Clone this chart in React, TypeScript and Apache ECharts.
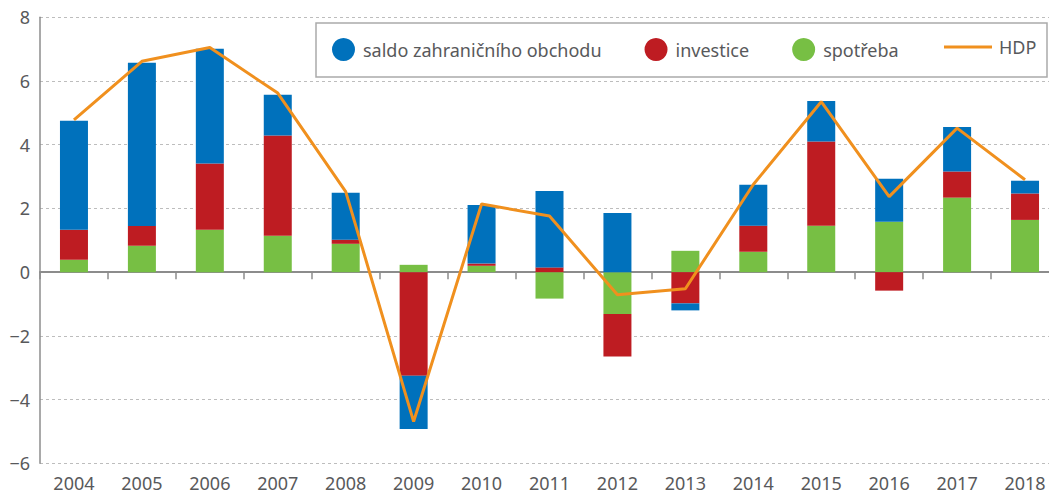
import React, { useEffect, useRef } from "react";
import * as echarts from "echarts";

const years = ["2004","2005","2006","2007","2008","2009","2010","2011","2012","2013","2014","2015","2016","2017","2018"];
const spotreba = [0.39, 0.83, 1.33, 1.14, 0.89, 0.23, 0.2, -0.83, -1.31, 0.67, 0.64, 1.46, 1.58, 2.34, 1.64];
const investice = [0.94, 0.62, 2.08, 3.15, 0.13, -3.25, 0.07, 0.15, -1.34, -0.98, 0.82, 2.64, -0.58, 0.82, 0.83];
const saldo = [3.42, 5.12, 3.6, 1.28, 1.47, -1.67, 1.84, 2.4, 1.86, -0.22, 1.28, 1.27, 1.35, 1.4, 0.4];
const hdp = [4.78, 6.62, 7.05, 5.62, 2.53, -4.69, 2.14, 1.76, -0.71, -0.52, 2.75, 5.35, 2.37, 4.52, 2.9];

const names = ["saldo zahraničního obchodu", "investice", "spotřeba", "HDP"];
const BLUE = "#0071bc";
const RED = "#be1c22";
const GREEN = "#77bf44";
const ORANGE = "#f0901e";
const FONT = "Noto Sans";
const TXT = "#58595b";

export default function App() {
  const ref = useRef<HTMLDivElement>(null);
  useEffect(() => {
    if (!ref.current) return;
    const chart = echarts.init(ref.current, null, { renderer: "svg" });
    chart.setOption({
      animation: false,
      backgroundColor: "#fff",
      textStyle: { fontFamily: FONT },
      grid: { left: 40, right: 0, top: 17.3, bottom: 31.7, containLabel: false },
      graphic: [
        {
          type: "rect",
          z: 1,
          shape: { x: 316, y: 23, width: 731, height: 54 },
          style: { fill: "#fff", stroke: "#aaaaaa", lineWidth: 1.5 },
        },
      ],
      legend: [
        {
          data: [
            { name: names[0], icon: "circle" },
            { name: names[1], icon: "circle" },
            { name: names[2], icon: "circle" },
          ],
          left: 332,
          top: 38,
          itemWidth: 23,
          itemHeight: 23,
          itemGap: 43,
          padding: 0,
          z: 5,
          textStyle: { fontFamily: FONT, fontSize: 18, color: TXT, padding: [0, 0, 0, 3] },
        },
        {
          data: [{ name: names[3], icon: "rect" }],
          left: 944,
          top: 38,
          itemWidth: 48,
          itemHeight: 3,
          padding: 0,
          z: 5,
          textStyle: { fontFamily: FONT, fontSize: 18, color: TXT, padding: [0, 0, 0, 2] },
        },
      ],
      xAxis: [
        {
          type: "category",
          data: years,
          boundaryGap: true,
          axisLine: { onZero: true, lineStyle: { color: "#8c8c8c", width: 2 } },
          axisTick: { show: true, length: 7, alignWithLabel: false, lineStyle: { color: "#8c8c8c", width: 1.5 } },
          axisLabel: { show: false },
          splitLine: { show: false },
        },
        {
          type: "category",
          data: years,
          position: "bottom",
          boundaryGap: true,
          axisLine: { show: false, onZero: false },
          axisTick: { show: false },
          axisLabel: { show: true, margin: 11, fontFamily: FONT, fontSize: 18, color: TXT },
          splitLine: { show: false },
        },
      ],
      yAxis: {
        type: "value",
        min: -6,
        max: 8,
        interval: 2,
        axisLine: { show: true, lineStyle: { color: "#8c8c8c", width: 1.5 } },
        axisTick: { show: false },
        axisLabel: {
          margin: 10,
          fontFamily: FONT,
          fontSize: 18,
          color: TXT,
          formatter: (v: number) => (v < 0 ? "\u2212" + Math.abs(v) : String(v)),
        },
        splitLine: { show: true, lineStyle: { color: "#bdbdbd", type: [3, 3], width: 1 } },
      },
      series: [
        { name: names[2], type: "bar", stack: "t", data: spotreba, barWidth: 28, itemStyle: { color: GREEN } },
        { name: names[1], type: "bar", stack: "t", data: investice, barWidth: 28, itemStyle: { color: RED } },
        { name: names[0], type: "bar", stack: "t", data: saldo, barWidth: 28, itemStyle: { color: BLUE } },
        {
          name: names[3],
          type: "line",
          data: hdp,
          symbol: "none",
          z: 4,
          lineStyle: { color: ORANGE, width: 3 },
          itemStyle: { color: ORANGE },
        },
      ],
    });
    return () => chart.dispose();
  }, []);
  return (
    <div style={{ position: "absolute", left: 0, top: 0, width: 1049, height: 495, overflow: "hidden" }}>
      <div ref={ref} style={{ width: 1059, height: 495 }} />
    </div>
  );
}
